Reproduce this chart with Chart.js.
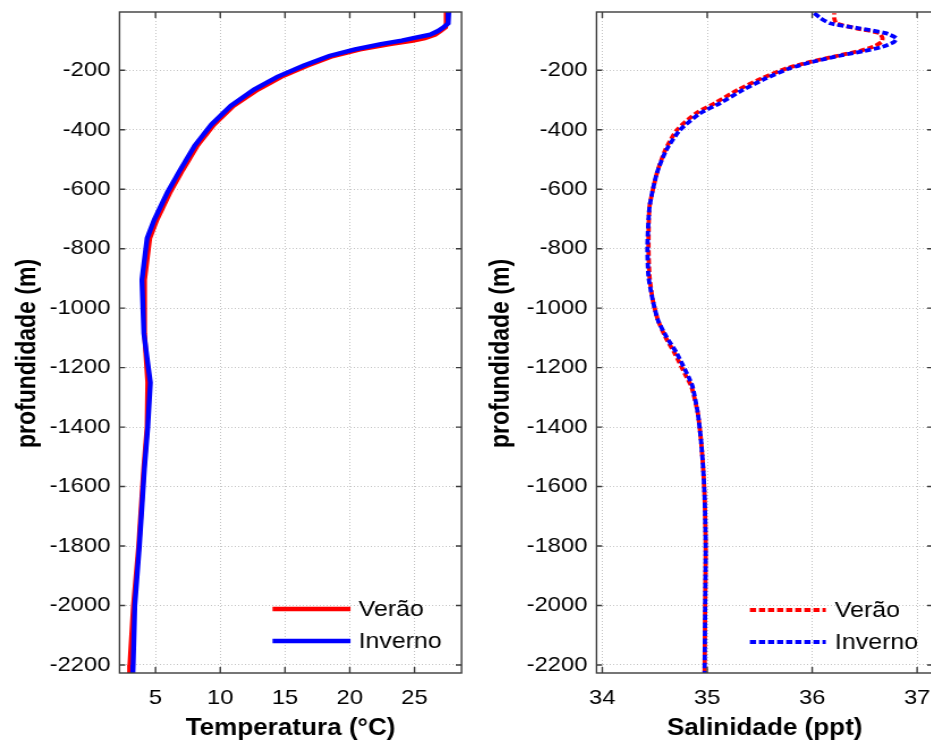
<!DOCTYPE html>
<html>
<head>
<meta charset="utf-8">
<script src="https://cdn.jsdelivr.net/npm/chart.js@4"></script>
<style>
  html, body { margin: 0; padding: 0; background: #fff; overflow: hidden; }
  #wrap { position: relative; width: 931px; height: 742px; overflow: hidden; }
  /* the original figure is stretched a little in width */
  canvas { position: absolute; top: 0; transform: scaleX(1.134); transform-origin: 0 0; }
  #tempChart { left: 0; }
  #salChart { left: 477px; }
</style>
</head>
<body>
<div id="wrap">
  <canvas id="tempChart" width="415" height="742"></canvas>
  <canvas id="salChart" width="425" height="742"></canvas>
</div>
<script>
// profundidade (m) x temperatura (°C)
const tempDepth = [-4, -42, -55, -68, -80, -92, -100, -112, -130, -152, -185, -222, -265, -320, -383, -455, -535, -612, -703, -765, -905, -1085, -1250, -1400, -1535, -1635, -1800, -2000, -2200, -2227];
const tempVerao = [27.45, 27.45, 27.4, 27.0, 26.6, 25.8, 24.9, 23.1, 20.8, 18.7, 16.7, 14.7, 12.9, 11.0, 9.5, 8.2, 7.1, 6.1, 5.1, 4.55, 4.15, 4.15, 4.4, 4.35, 4.1, 3.95, 3.7, 3.3, 3.02, 3.0];
const tempInverno = [27.65, 27.6, 27.25, 26.8, 26.2, 24.9, 24.0, 22.4, 20.4, 18.4, 16.4, 14.4, 12.6, 10.8, 9.3, 8.0, 6.9, 5.9, 4.9, 4.35, 3.95, 4.1, 4.6, 4.4, 4.15, 4.0, 3.75, 3.4, 3.27, 3.25];

// profundidade (m) x salinidade (ppt)
const salDepth = [-8, -25, -42, -59, -75, -92, -105, -121, -135, -149, -171, -193, -227, -266, -311, -345, -401, -468, -546, -659, -793, -894, -972, -1040, -1096, -1152, -1230, -1264, -1353, -1443, -1533, -1634, -1800, -2000, -2227];
const salVerao = [36.21, 36.21, 36.23, 36.42, 36.64, 36.67, 36.66, 36.58, 36.45, 36.27, 35.99, 35.76, 35.52, 35.29, 35.07, 34.89, 34.71, 34.6, 34.52, 34.45, 34.44, 34.45, 34.48, 34.53, 34.6, 34.69, 34.8, 34.85, 34.91, 34.94, 34.96, 34.975, 34.985, 34.98, 34.975];
const salInverno = [36.02, 36.08, 36.17, 36.45, 36.7, 36.8, 36.78, 36.67, 36.5, 36.29, 36.01, 35.79, 35.56, 35.34, 35.12, 34.93, 34.74, 34.61, 34.52, 34.45, 34.43, 34.44, 34.48, 34.53, 34.61, 34.71, 34.82, 34.86, 34.91, 34.94, 34.96, 34.975, 34.985, 34.98, 34.975];

const seriesNames = ["Verão", "Inverno"];

// axis limits and tick labels
const depthLimits = [-2227, -4];
const tempLimits = [2.22, 28.63];
const salLimits = [33.945, 37.15];
const depthTicks = [-200, -400, -600, -800, -1000, -1200, -1400, -1600, -1800, -2000, -2200];
const tempTicks = [5, 10, 15, 20, 25];
const salTicks = [34, 35, 36, 37];

const FONT = "'Liberation Sans', Arial, sans-serif";
Chart.defaults.font.family = FONT;
Chart.defaults.font.size = 21;
Chart.defaults.color = "#000";

const toPoints = (xs, ys) => xs.map((x, i) => ({ x, y: ys[i] }));
const fixTicks = (values) => (scale) => {
  scale.ticks = values.map((value) => ({ value }));
};

// box round the plot, inward ticks on all sides, y title, legend in the lower right
const matlabBox = {
  id: "matlabBox",
  afterDraw(chart, args, opts) {
    const { ctx, chartArea: a, scales } = chart;
    ctx.save();
    ctx.strokeStyle = "#3c3c3c";
    ctx.lineWidth = 1.4;
    ctx.strokeRect(a.left, a.top, a.width, a.height);

    ctx.beginPath();
    scales.x.ticks.forEach((t) => {
      const px = scales.x.getPixelForValue(t.value);
      ctx.moveTo(px, a.bottom); ctx.lineTo(px, a.bottom - 6);
      ctx.moveTo(px, a.top); ctx.lineTo(px, a.top + 6);
    });
    scales.y.ticks.forEach((t) => {
      const py = scales.y.getPixelForValue(t.value);
      ctx.moveTo(a.left, py); ctx.lineTo(a.left + 5, py);
      ctx.moveTo(a.right, py); ctx.lineTo(a.right - 5, py);
    });
    ctx.stroke();

    if (opts.yTitle) {
      ctx.save();
      ctx.font = `bold 23px ${FONT}`;
      ctx.fillStyle = "#000";
      ctx.textAlign = "center";
      ctx.textBaseline = "middle";
      ctx.translate(opts.yTitle.x, (a.top + a.bottom) / 2 + opts.yTitle.dy);
      ctx.rotate(-Math.PI / 2);
      ctx.fillText(opts.yTitle.text, 0, 0);
      ctx.restore();
    }

    const lg = opts.legend;
    if (lg) {
      ctx.font = `22px ${FONT}`;
      ctx.textBaseline = "middle";
      ctx.textAlign = "left";
      lg.rows.forEach((rowY, i) => {
        const ds = chart.data.datasets[i];
        const y = a.bottom - rowY;
        ctx.strokeStyle = ds.borderColor;
        ctx.lineWidth = ds.borderWidth;
        ctx.setLineDash(ds.borderDash || []);
        ctx.beginPath();
        ctx.moveTo(a.right - lg.lineStart, y);
        ctx.lineTo(a.right - lg.lineEnd, y);
        ctx.stroke();
        ctx.setLineDash([]);
        ctx.fillStyle = "#000";
        ctx.fillText(ds.label, a.right - lg.text, y + 1);
      });
    }
    ctx.restore();
  },
};

const makeOptions = (xLimits, xTicks, xTitle, yTitleX, rightPad, legend) => ({
  responsive: false,
  animation: false,
  layout: { padding: { top: 12, right: rightPad, left: 0, bottom: 0 } },
  elements: { point: { radius: 0 } },
  plugins: {
    legend: { display: false },
    tooltip: { enabled: false },
    matlabBox: { legend, yTitle: { text: "profundidade (m)", x: yTitleX, dy: 11 } },
  },
  scales: {
    x: {
      type: "linear",
      min: xLimits[0],
      max: xLimits[1],
      afterBuildTicks: fixTicks(xTicks),
      afterFit: (s) => { s.height = 69; s.paddingLeft = 0; s.paddingRight = 0; },
      ticks: { autoSkip: false, padding: 13, maxRotation: 0, callback: (v) => String(v) },
      grid: { color: "#c4c4c4", lineWidth: 1, drawTicks: false },
      border: { display: false, dash: [1, 2] },
      title: { display: true, text: xTitle, font: { weight: "bold", size: 23 }, padding: { top: 0, bottom: 0 } },
    },
    y: {
      type: "linear",
      min: depthLimits[0],
      max: depthLimits[1],
      afterBuildTicks: fixTicks(depthTicks),
      afterFit: (s) => { s.width = 105.4; s.paddingTop = 0; s.paddingBottom = 0; },
      ticks: { autoSkip: false, padding: 8, callback: (v) => String(v) },
      grid: { color: "#c4c4c4", lineWidth: 1, drawTicks: false },
      border: { display: false, dash: [1, 2] },
      title: { display: false },
    },
  },
});

new Chart(document.getElementById("tempChart"), {
  type: "scatter",
  data: {
    datasets: [
      { label: seriesNames[0], data: toPoints(tempVerao, tempDepth), showLine: true, borderColor: "#ff0000", borderWidth: 4.4, order: 1, tension: 0 },
      { label: seriesNames[1], data: toPoints(tempInverno, tempDepth), showLine: true, borderColor: "#0000ff", borderWidth: 4.4, order: 0, tension: 0 },
    ],
  },
  options: makeOptions(tempLimits, tempTicks, "Temperatura (°C)", 24.7, 8, { lineStart: 166.7, lineEnd: 97.9, text: 90.8, rows: [64, 32] }),
  plugins: [matlabBox],
});

new Chart(document.getElementById("salChart"), {
  type: "scatter",
  data: {
    datasets: [
      { label: seriesNames[0], data: toPoints(salVerao, salDepth), showLine: true, borderColor: "#ff0000", borderWidth: 3.8, borderDash: [5.5, 2.5], borderDashOffset: 4, order: 1, tension: 0.2 },
      { label: seriesNames[1], data: toPoints(salInverno, salDepth), showLine: true, borderColor: "#0000ff", borderWidth: 3.8, borderDash: [5.5, 2.5], order: 0, tension: 0.2 },
    ],
  },
  options: makeOptions(salLimits, salTicks, "Salinidade (ppt)", 21.6, 23, { lineStart: 161.4, lineEnd: 94.4, text: 86.4, rows: [63, 31] }),
  plugins: [matlabBox],
});
</script>
</body>
</html>
